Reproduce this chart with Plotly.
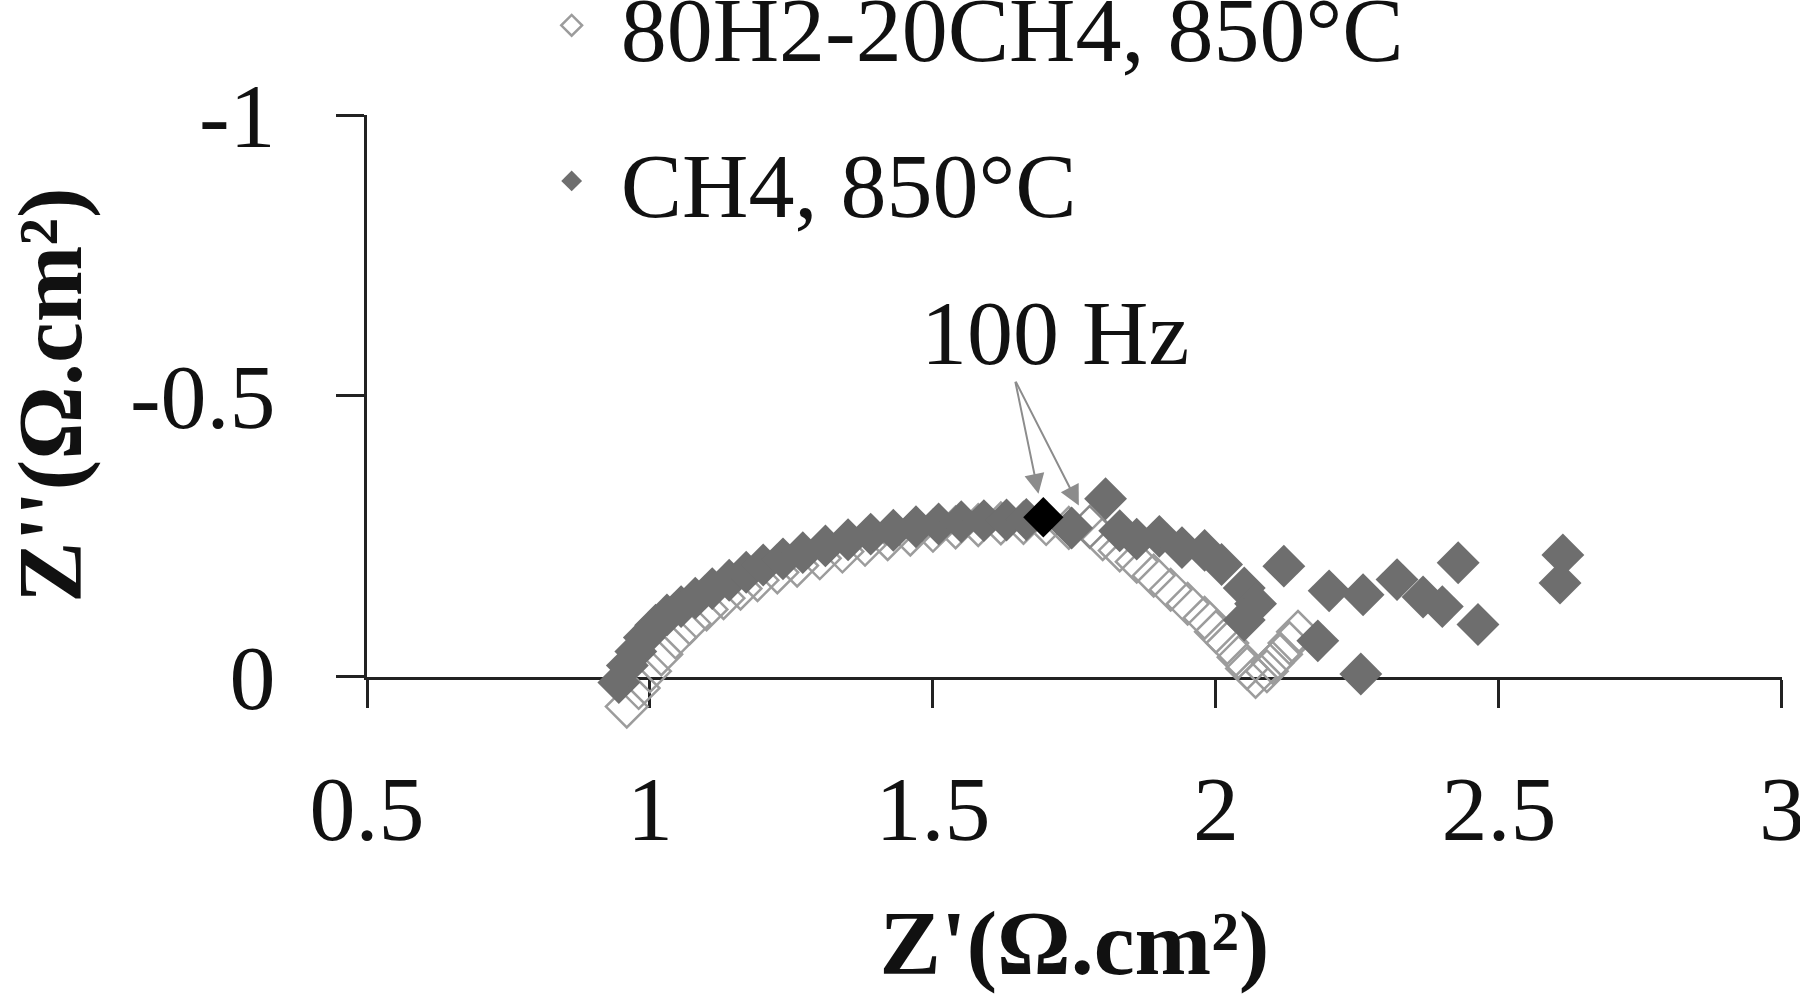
import plotly.graph_objects as go

# ---------------- data ----------------
h2ch4_name = "80H2-20CH4, 850°C"
h2ch4_zre = [0.959, 0.98, 1.0, 1.02, 1.045, 1.07, 1.10, 1.13, 1.16, 1.19, 1.225, 1.26, 1.30,
             1.34, 1.38, 1.42, 1.46, 1.50, 1.54, 1.58, 1.62, 1.66, 1.70, 1.74,
             1.80, 1.83, 1.86, 1.89, 1.92, 1.95, 1.98, 2.00, 2.02, 2.04, 2.055, 2.07,
             2.09, 2.10, 2.115, 2.13, 2.145]
h2ch4_zim = [0.053, 0.02, -0.01, -0.04, -0.07, -0.095, -0.12, -0.14, -0.157, -0.172, -0.186, -0.198, -0.211,
             -0.223, -0.235, -0.245, -0.253, -0.26, -0.266, -0.27, -0.273, -0.274, -0.272, -0.265,
             -0.245, -0.225, -0.205, -0.18, -0.155, -0.13, -0.105, -0.08, -0.06, -0.035, -0.015, 0.0,
             -0.01, -0.025, -0.04, -0.06, -0.08]

ch4_name = "CH4, 850°C"
ch4_zre = [0.945, 0.96, 0.975, 0.99, 1.01, 1.03, 1.055, 1.08, 1.11, 1.14, 1.17, 1.20, 1.235,
           1.27, 1.31, 1.35, 1.39, 1.43, 1.47, 1.51, 1.55, 1.59, 1.63, 1.665,
           1.745, 1.805, 1.83, 1.86, 1.90, 1.94, 1.98, 2.01, 2.05, 2.07, 2.05, 2.12,
           2.18, 2.20, 2.26, 2.256, 2.32, 2.366, 2.40, 2.428, 2.463, 2.613, 2.608]
ch4_zim = [0.01, -0.02, -0.045, -0.07, -0.092, -0.11, -0.125, -0.14, -0.157, -0.172, -0.186, -0.199, -0.21,
           -0.221, -0.233, -0.244, -0.254, -0.261, -0.267, -0.272, -0.276, -0.278, -0.279, -0.28,
           -0.265, -0.317, -0.26, -0.245, -0.25, -0.23, -0.225, -0.20, -0.158, -0.13, -0.101, -0.197,
           -0.064, -0.153, -0.146, -0.005, -0.173, -0.142, -0.125, -0.203, -0.093, -0.217, -0.167]

# 100 Hz points
hz100_label = "100 Hz"
ch4_100hz_zre = [1.695]
ch4_100hz_zim = [-0.284]
h2ch4_100hz_zre = [1.777]
h2ch4_100hz_zim = [-0.267]

x_tickvals = [0.5, 1, 1.5, 2, 2.5, 3]
x_ticktext = ["0.5", "1", "1.5", "2", "2.5", "3"]
y_tickvals = [-1, -0.5, 0]
y_ticktext = ["-1", "-0.5", "0"]

x_title = "Z'(Ω.cm²)"
y_title = "Z''(Ω.cm²)"

# ---------------- style / layout geometry ----------------
FONT = "Liberation Serif"
FS = 92
AXC = "#222222"
TXT = "#111111"

W, H = 1800, 994
M_L, M_R, M_T = 367, 18, 115
AXIS_H = 562                       # px spanned by the visible y range [0, -1]
EXT = 0.1                          # extra room below Z''=0 so points just below the axis stay visible
PLOT_H = AXIS_H * (1 + EXT)
M_B = H - M_T - PLOT_H
Y_DOMAIN0 = EXT / (1 + EXT)

fig = go.Figure()
common = dict(mode="markers", cliponaxis=False, xaxis="x", yaxis="y2")
fig.add_trace(go.Scatter(
    x=h2ch4_zre, y=h2ch4_zim, name=h2ch4_name, legendgroup="a",
    marker=dict(symbol="diamond-open", size=32, color="#9c9c9c", line=dict(width=2.5, color="#9c9c9c")),
    **common))
fig.add_trace(go.Scatter(
    x=h2ch4_100hz_zre, y=h2ch4_100hz_zim, showlegend=False, legendgroup="a",
    marker=dict(symbol="diamond-open", size=32, color="#8a8a8a", line=dict(width=2.5, color="#8a8a8a")),
    **common))
fig.add_trace(go.Scatter(
    x=ch4_zre, y=ch4_zim, name=ch4_name, legendgroup="b",
    marker=dict(symbol="diamond", size=33, color="#6e6e6e", line=dict(width=0)),
    **common))
fig.add_trace(go.Scatter(
    x=ch4_100hz_zre, y=ch4_100hz_zim, showlegend=False, legendgroup="b",
    marker=dict(symbol="diamond", size=31, color="#000000", line=dict(width=0)),
    **common))

# 100 Hz label and arrows
tail_x, tail_y = 1.645, -0.528
fig.add_annotation(x=1.716, y=-0.612, xref="x", yref="y", text=hz100_label, showarrow=False,
                   font=dict(family=FONT, size=FS, color=TXT))
for px, py in [(ch4_100hz_zre[0], ch4_100hz_zim[0]), (h2ch4_100hz_zre[0], h2ch4_100hz_zim[0])]:
    fig.add_annotation(x=px, y=py, xref="x", yref="y", ax=tail_x, ay=tail_y, axref="x", ayref="y",
                       text="", showarrow=True, arrowhead=2, arrowsize=2, arrowwidth=2,
                       arrowcolor="#8c8c8c", standoff=24)

# y axis title
fig.add_annotation(x=(50 - M_L) / (W - M_L - M_R), y=0.5, xref="paper", yref="y domain",
                   text=y_title, textangle=-90, showarrow=False, xanchor="center", yanchor="middle",
                   font=dict(family=FONT, size=FS, color=TXT, weight="bold"))

fig.update_layout(
    width=W, height=H,
    margin=dict(l=M_L, r=M_R, t=M_T, b=M_B, autoexpand=False),
    paper_bgcolor="white", plot_bgcolor="rgba(0,0,0,0)",
    font=dict(family=FONT, size=FS, color=TXT),
    showlegend=True,
    legend=dict(x=0.11, y=1 + (M_T + 41) / PLOT_H, xanchor="left", yanchor="top",
                font=dict(family=FONT, size=FS, color=TXT),
                bgcolor="rgba(0,0,0,0)", itemwidth=88, tracegroupgap=33,
                traceorder="grouped"),
    xaxis=dict(range=[0.5, 3.0002], tickvals=x_tickvals, ticktext=x_ticktext, anchor="y",
               showgrid=False, zeroline=False, showline=True, linecolor=AXC, linewidth=3,
               ticks="outside", ticklen=28, tickwidth=3, tickcolor=AXC,
               ticklabelstandoff=22, ticklabeloverflow="allow",
               tickfont=dict(family=FONT, size=FS, color=TXT),
               title=dict(text=x_title, standoff=70,
                          font=dict(family=FONT, size=92, color=TXT, weight="bold")),
               automargin=False),
    yaxis=dict(domain=[Y_DOMAIN0, 1], range=[0, -1], tickvals=y_tickvals, ticktext=y_ticktext,
               anchor="x",
               showgrid=False, zeroline=False, showline=True, linecolor=AXC, linewidth=3,
               ticks="outside", ticklen=28, tickwidth=3, tickcolor=AXC,
               ticklabelstandoff=42, ticklabeloverflow="allow",
               tickfont=dict(family=FONT, size=FS, color=TXT),
               automargin=False),
    yaxis2=dict(domain=[0, 1], range=[EXT, -1], anchor="x", visible=False,
                showgrid=False, zeroline=False, fixedrange=True),
)

fig.write_html("out.html", config={"displayModeBar": False},
               post_script="document.body.style.margin='0px';")
